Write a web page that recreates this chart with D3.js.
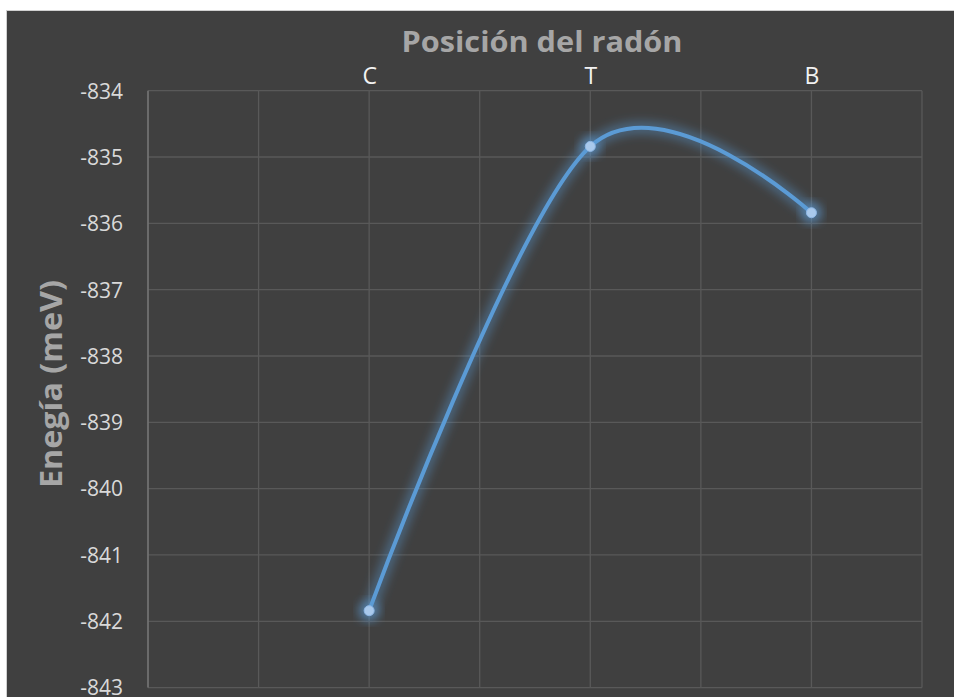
<!DOCTYPE html>
<html>
<head>
<meta charset="utf-8">
<script src="https://cdn.jsdelivr.net/npm/d3@7"></script>
<style>
  html, body { margin: 0; padding: 0; background: #ffffff; }
  svg { display: block; }
</style>
</head>
<body>
<div id="chart"></div>
<script>
// Energy of the radon atom at each adsorption position
const categories = ["C", "T", "B"];
const xPositions = [2, 4, 6];
const energies = [-841.84, -834.84, -835.84];
const yTicks = [-834, -835, -836, -837, -838, -839, -840, -841, -842, -843];
const xGrid = [0, 1, 2, 3, 4, 5, 6, 7];

const W = 954, H = 697;
const margin = { left: 148, right: 954 - 922, top: 90.7, bottom: 697 - 687.6 };

const svg = d3.select("#chart").append("svg")
  .attr("width", W).attr("height", H);

// chart background
svg.append("rect")
  .attr("x", 6.5).attr("y", 10.5)
  .attr("width", W - 6).attr("height", H - 10)
  .attr("fill", "#404040")
  .attr("stroke", "#d0d0d0").attr("stroke-width", 1);

const x = d3.scaleLinear().domain([0, 7]).range([margin.left, W - margin.right]);
const y = d3.scaleLinear().domain([-834, -843]).range([margin.top, H - margin.bottom]);

const defs = svg.append("defs");
const glow = defs.append("filter").attr("id", "glow")
  .attr("x", "-20%").attr("y", "-20%").attr("width", "140%").attr("height", "140%");
glow.append("feGaussianBlur").attr("stdDeviation", 5);

// gridlines
const grid = svg.append("g").attr("stroke", "#595959").attr("stroke-width", 1.3);
grid.selectAll("line.h").data(yTicks).join("line")
  .attr("class", "h")
  .attr("x1", x(0)).attr("x2", x(7))
  .attr("y1", d => y(d)).attr("y2", d => y(d));
grid.selectAll("line.v").data(xGrid).join("line")
  .attr("class", "v")
  .attr("x1", d => x(d)).attr("x2", d => x(d))
  .attr("y1", y(-834)).attr("y2", y(-843));
// left axis line
svg.append("line")
  .attr("x1", x(0)).attr("x2", x(0))
  .attr("y1", y(-834)).attr("y2", y(-843))
  .attr("stroke", "#7a7a7a").attr("stroke-width", 1.3);

// y axis tick labels
const yAxis = d3.axisLeft(y).tickValues(yTicks).tickSize(0).tickPadding(25)
  .tickFormat(d => String(d));
const gy = svg.append("g").attr("transform", `translate(${x(0)},0)`).call(yAxis);
gy.select(".domain").remove();
gy.selectAll("text")
  .attr("fill", "#d9d9d9")
  .style("font-family", "'Open Sans', sans-serif")
  .style("font-size", "21px")
  .attr("dy", "0.35em");

// x axis category labels along the top
const xAxis = d3.axisTop(x).tickValues(xPositions).tickSize(0).tickPadding(7)
  .tickFormat((d, i) => categories[i]);
const gx = svg.append("g").attr("transform", `translate(0,${y(-834)})`).call(xAxis);
gx.select(".domain").remove();
gx.selectAll("text")
  .attr("fill", "#f2f2f2")
  .style("font-family", "'Open Sans', sans-serif")
  .style("font-size", "23px");

// data series
const pts = xPositions.map((p, i) => [x(p), y(energies[i])]);
const line = d3.line().curve(d3.curveCardinal.tension(0));

svg.append("path")
  .attr("d", line(pts))
  .attr("fill", "none")
  .attr("stroke", "#5b9bd5").attr("stroke-width", 13)
  .attr("stroke-opacity", 0.4)
  .attr("stroke-linecap", "round")
  .attr("filter", "url(#glow)");
svg.append("g").selectAll("circle").data(pts).join("circle")
  .attr("cx", d => d[0]).attr("cy", d => d[1]).attr("r", 11)
  .attr("fill", "#5b9bd5").attr("fill-opacity", 0.5)
  .attr("filter", "url(#glow)");

svg.append("path")
  .attr("d", line(pts))
  .attr("fill", "none")
  .attr("stroke", "#5b9bd5").attr("stroke-width", 4)
  .attr("stroke-linecap", "round");

svg.append("g").selectAll("circle").data(pts).join("circle")
  .attr("cx", d => d[0]).attr("cy", d => d[1]).attr("r", 5)
  .attr("fill", "#a9c9ec").attr("stroke", "#8fb8e6").attr("stroke-width", 1);

// titles
svg.append("text")
  .attr("x", 542).attr("y", 52)
  .attr("text-anchor", "middle")
  .attr("fill", "#a6a6a6")
  .style("font-family", "'Open Sans', sans-serif")
  .style("font-weight", "bold")
  .style("font-size", "29px")
  .attr("textLength", 281).attr("lengthAdjust", "spacingAndGlyphs")
  .text("Posición del radón");

svg.append("text")
  .attr("transform", "translate(62,384) rotate(-90)")
  .attr("text-anchor", "middle")
  .attr("fill", "#a6a6a6")
  .style("font-family", "'Open Sans', sans-serif")
  .style("font-weight", "bold")
  .style("font-size", "30px")
  .attr("textLength", 208).attr("lengthAdjust", "spacingAndGlyphs")
  .text("Enegía (meV)");
</script>
</body>
</html>
